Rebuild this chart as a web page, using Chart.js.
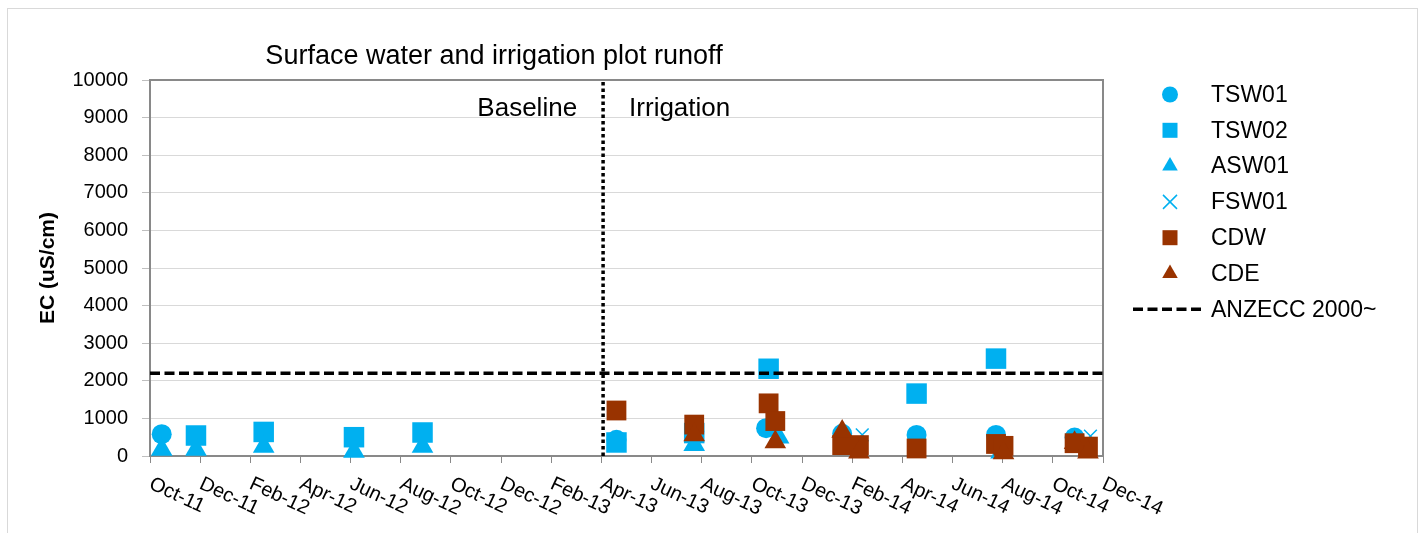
<!DOCTYPE html>
<html>
<head>
<meta charset="utf-8">
<title>Surface water and irrigation plot runoff</title>
<script src="https://cdn.jsdelivr.net/npm/chart.js@4.4.1/dist/chart.umd.min.js"></script>
<style>
  html, body { margin: 0; padding: 0; background: #fff; }
  #wrap { position: relative; width: 1420px; height: 533px; }
</style>
</head>
<body>
<div id="wrap"><canvas id="ecChart" width="1420" height="533"></canvas></div>
<script>
// x axis labels, one every two months from Oct-11
var tickLabels = ['Oct-11', 'Dec-11', 'Feb-12', 'Apr-12', 'Jun-12', 'Aug-12', 'Oct-12', 'Dec-12',
  'Feb-13', 'Apr-13', 'Jun-13', 'Aug-13', 'Oct-13', 'Dec-13', 'Feb-14', 'Apr-14', 'Jun-14',
  'Aug-14', 'Oct-14', 'Dec-14'];

// sample dates and EC (uS/cm) per site
var tsw01Dates = ['2011-10-15', '2013-04-19', '2013-07-22', '2013-10-18', '2014-01-19', '2014-04-18', '2014-07-23', '2014-10-27'];
var tsw01Values = [580, 430, 650, 740, 590, 560, 560, 490];

var tsw02Dates = ['2011-11-26', '2012-02-17', '2012-06-05', '2012-08-27', '2013-04-19', '2013-07-22', '2013-10-21', '2014-04-18', '2014-07-23'];
var tsw02Values = [545, 640, 500, 625, 360, 610, 2320, 1660, 2590];

var asw01Dates = ['2011-10-15', '2011-11-26', '2012-02-17', '2012-06-05', '2012-08-27', '2013-07-22', '2013-11-03', '2014-07-29'];
var asw01Values = [170, 170, 250, 120, 250, 300, 500, 100];

var fsw01Dates = ['2014-02-13', '2014-11-16'];
var fsw01Values = [560, 530];

var cdwDates = ['2013-04-19', '2013-07-22', '2013-10-21', '2013-10-29', '2014-01-19', '2014-02-09', '2014-04-18', '2014-07-23', '2014-08-02', '2014-10-27', '2014-11-13'];
var cdwValues = [1210, 835, 1400, 930, 290, 290, 200, 320, 270, 340, 250];

var cdeDates = ['2013-07-22', '2013-10-29', '2014-01-19', '2014-02-09', '2014-08-02', '2014-10-27', '2014-11-13'];
var cdeValues = [560, 370, 650, 100, 80, 350, 100];

// guideline and the start of irrigation
var anzeccValue = 2200;
var anzeccDates = ['2011-10-01', '2014-12-01'];
var irrigationStart = '2013-04-03';

var blue = '#00b0f0';
var brown = '#993300';
var fontFamily = '"Liberation Sans", Arial, sans-serif';

// months since 1 Oct 2011
function monthIndex(d) {
  var p = d.split('-');
  return (p[0] - 2011) * 12 + (p[1] - 10) + (p[2] - 1) / 30;
}

function points(dates, values) {
  return dates.map(function (d, i) { return { x: monthIndex(d), y: values[i] }; });
}

function site(label, dates, values, style, color, radius, order) {
  return {
    label: label,
    data: points(dates, values),
    pointStyle: style,
    pointRadius: radius,
    pointHoverRadius: radius,
    backgroundColor: color,
    borderColor: color,
    borderWidth: style === 'crossRot' ? 1.5 : 0,
    showLine: false,
    clip: false,
    order: order
  };
}

var legendItems = [
  { label: 'TSW01', style: 'circle', color: blue },
  { label: 'TSW02', style: 'rect', color: blue },
  { label: 'ASW01', style: 'triangle', color: blue },
  { label: 'FSW01', style: 'crossRot', color: blue },
  { label: 'CDW', style: 'rect', color: brown },
  { label: 'CDE', style: 'triangle', color: brown },
  { label: 'ANZECC 2000~', style: 'dash', color: '#000' }
];

function drawMarker(ctx, style, x, y, color) {
  ctx.save();
  ctx.fillStyle = color;
  ctx.strokeStyle = color;
  ctx.beginPath();
  if (style === 'circle') {
    ctx.arc(x, y, 8, 0, Math.PI * 2);
    ctx.fill();
  } else if (style === 'rect') {
    ctx.fillRect(x - 7.5, y - 7.5, 15, 15);
  } else if (style === 'triangle') {
    var r = 9;
    ctx.moveTo(x, y - r);
    ctx.lineTo(x + r * 0.866, y + r / 2);
    ctx.lineTo(x - r * 0.866, y + r / 2);
    ctx.closePath();
    ctx.fill();
  } else if (style === 'crossRot') {
    ctx.lineWidth = 1.5;
    ctx.moveTo(x - 7, y - 7); ctx.lineTo(x + 7, y + 7);
    ctx.moveTo(x + 7, y - 7); ctx.lineTo(x - 7, y + 7);
    ctx.stroke();
  } else if (style === 'dash') {
    ctx.lineWidth = 3.5;
    ctx.setLineDash([10, 4.5]);
    ctx.moveTo(x - 37, y); ctx.lineTo(x + 33, y);
    ctx.stroke();
  }
  ctx.restore();
}

var decor = {
  id: 'decor',
  beforeDraw: function (chart) {
    var ctx = chart.ctx;
    ctx.save();
    ctx.fillStyle = '#fff';
    ctx.fillRect(0, 0, chart.width, chart.height);
    ctx.strokeStyle = '#d9d9d9';
    ctx.lineWidth = 1;
    ctx.strokeRect(7.5, 8.5, 1410, 560);
    ctx.restore();
  },
  beforeDatasetsDraw: function (chart) {
    var a = chart.chartArea, ctx = chart.ctx;
    ctx.save();
    ctx.strokeStyle = '#898989';
    ctx.lineWidth = 2;
    ctx.beginPath();
    ctx.moveTo(a.left, a.top); ctx.lineTo(a.right, a.top); ctx.lineTo(a.right, a.bottom);
    ctx.stroke();
    ctx.restore();
  },
  afterDraw: function (chart) {
    var ctx = chart.ctx, xs = chart.scales.x, ys = chart.scales.y;
    ctx.save();
    ctx.fillStyle = '#000';

    ctx.font = '27px ' + fontFamily;
    ctx.textAlign = 'center';
    ctx.textBaseline = 'alphabetic';
    ctx.fillText('Surface water and irrigation plot runoff', 494, 64);

    ctx.font = '26px ' + fontFamily;
    var split = xs.getPixelForValue(monthIndex(irrigationStart));
    var labelY = ys.getPixelForValue(9000) - 2;
    ctx.textAlign = 'right';
    ctx.fillText('Baseline', split - 26, labelY);
    ctx.textAlign = 'left';
    ctx.fillText('Irrigation', split + 26, labelY);

    // slanted month labels hanging from each tick
    ctx.font = '20px ' + fontFamily;
    xs.ticks.forEach(function (t) {
      var px = xs.getPixelForValue(t.value);
      ctx.save();
      ctx.translate(px - 2, xs.top + 32);
      ctx.rotate(25 * Math.PI / 180);
      ctx.textAlign = 'left';
      ctx.fillText(tickLabels[Math.round(t.value / 2)], 0, 0);
      ctx.restore();
    });

    // legend
    ctx.font = '23px ' + fontFamily;
    ctx.textBaseline = 'middle';
    legendItems.forEach(function (item, i) {
      var y = 94.5 + i * 35.8;
      drawMarker(ctx, item.style, 1170, y, item.color);
      ctx.fillStyle = '#000';
      ctx.textAlign = 'left';
      ctx.fillText(item.label, 1211, y + 1);
    });
    ctx.restore();
  }
};

var ctx = document.getElementById('ecChart').getContext('2d');
var ecChart = new Chart(ctx, {
  type: 'scatter',
  data: {
    datasets: [
      site('TSW01', tsw01Dates, tsw01Values, 'circle', blue, 10, 7),
      site('TSW02', tsw02Dates, tsw02Values, 'rect', blue, 14.5, 6),
      site('ASW01', asw01Dates, asw01Values, 'triangle', blue, 12.5, 5),
      site('FSW01', fsw01Dates, fsw01Values, 'crossRot', blue, 9, 4),
      site('CDW', cdwDates, cdwValues, 'rect', brown, 14, 3),
      site('CDE', cdeDates, cdeValues, 'triangle', brown, 12.5, 2),
      {
        type: 'line',
        label: 'ANZECC 2000~',
        data: anzeccDates.map(function (d) { return { x: monthIndex(d), y: anzeccValue }; }),
        borderColor: '#000',
        borderWidth: 3.5,
        borderDash: [10, 4.5],
        pointRadius: 0,
        fill: false,
        order: 1
      },
      {
        type: 'line',
        label: 'Irrigation start',
        data: [{ x: monthIndex(irrigationStart), y: 0 }, { x: monthIndex(irrigationStart), y: 10000 }],
        borderColor: '#000',
        borderWidth: 3.5,
        borderDash: [3.5, 3],
        pointRadius: 0,
        fill: false,
        clip: false,
        order: 0
      }
    ]
  },
  options: {
    responsive: false,
    animation: false,
    layout: { padding: { top: 80, right: 317, bottom: 0, left: 0 } },
    plugins: {
      legend: { display: false },
      tooltip: { enabled: false },
      title: { display: false }
    },
    scales: {
      x: {
        type: 'linear',
        min: 0,
        max: 38,
        afterFit: function (s) { s.height = 77; },
        ticks: { stepSize: 2, display: false },
        grid: { drawOnChartArea: false, drawTicks: true, tickLength: 7, color: '#898989' },
        border: { color: '#898989', width: 2 }
      },
      y: {
        min: 0,
        max: 10000,
        afterFit: function (s) { s.width = 150; },
        ticks: {
          stepSize: 1000,
          padding: 14,
          color: '#000',
          font: { family: fontFamily, size: 20 },
          callback: function (v) { return String(v); }
        },
        grid: { color: '#d9d9d9', tickLength: 8, tickColor: '#bfbfbf' },
        border: { color: '#898989', width: 2 },
        title: {
          display: true,
          text: 'EC (uS/cm)',
          color: '#000',
          font: { family: fontFamily, size: 21, weight: 'bold' },
          padding: { top: 36, bottom: 0 }
        }
      }
    }
  },
  plugins: [decor]
});
</script>
</body>
</html>
